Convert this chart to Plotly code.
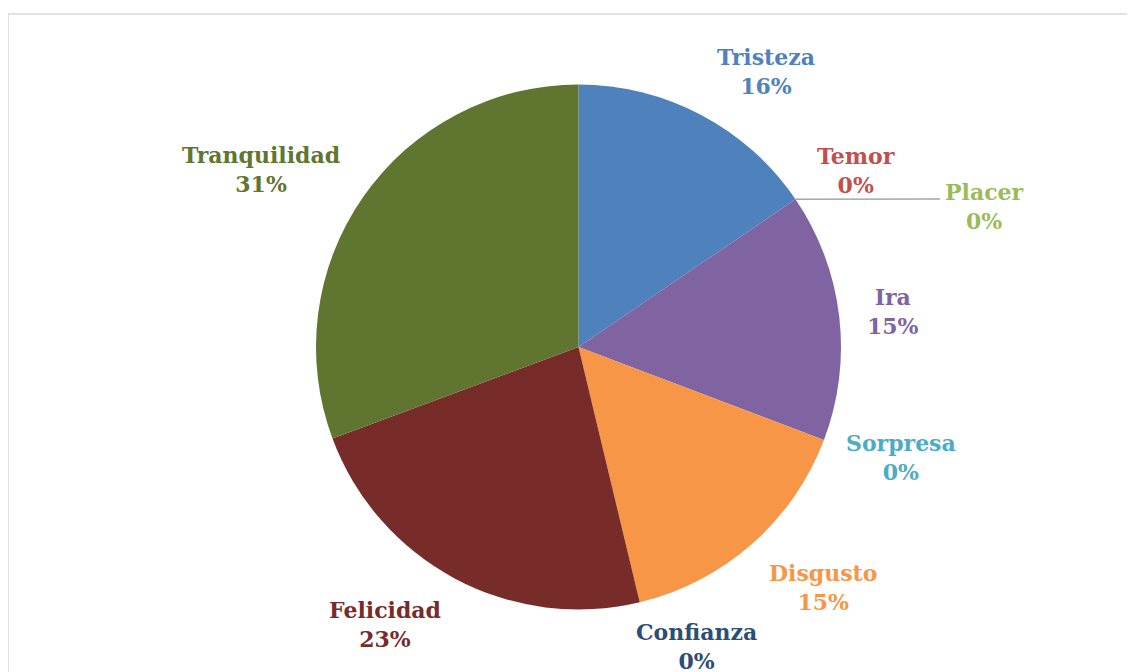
import math
import plotly.graph_objects as go

# Emotions, in clockwise order from 12 o'clock
emotions = ["Tristeza", "Temor", "Placer", "Ira", "Sorpresa",
            "Disgusto", "Confianza", "Felicidad", "Tranquilidad"]
shares = [15.5, 0, 0, 15.3, 0, 15.5, 0, 23.1, 30.7]
percent_labels = ["16%", "0%", "0%", "15%", "0%", "15%", "0%", "23%", "31%"]
colors = ["#4F81BD", "#C0504D", "#9BBB59", "#8064A2", "#4BACC6",
          "#F79646", "#2C4D75", "#772C2A", "#5F7530"]

W, H = 1135, 672
OFF = 8  # the page body adds an 8px margin; pixel positions below are screen positions
# pie geometry in screen pixels
CX, CY, R = 578.5, 347, 262.5

# label block centres in screen pixels (Excel "best fit" placement)
label_pos = {
    "Tristeza": (766, 71),
    "Temor": (856, 170),
    "Placer": (984, 206),
    "Ira": (893, 312),
    "Sorpresa": (901, 458),
    "Disgusto": (823, 587),
    "Confianza": (696, 646),
    "Felicidad": (385, 624),
    "Tranquilidad": (261, 169),
}


def px(x):
    return (x - OFF) / W


def py(y):
    return 1 - (y - OFF) / H


fig = go.Figure(
    go.Pie(
        labels=emotions,
        values=shares,
        sort=False,
        direction="clockwise",
        rotation=0,
        marker=dict(colors=colors, line=dict(width=0)),
        textinfo="none",
        hoverinfo="label+percent",
        showlegend=False,
        domain=dict(x=[px(CX - R), px(CX + R)],
                    y=[py(CY + R), py(CY - R)]),
    )
)

for name, pct, col in zip(emotions, percent_labels, colors):
    lx, ly = label_pos[name]
    fig.add_annotation(
        x=px(lx), y=py(ly), xref="paper", yref="paper",
        text=f"<b>{name}</b><br><b>{pct}</b>",
        showarrow=False, xanchor="center", yanchor="middle",
        font=dict(family="DejaVu Serif", size=22, color=col),
    )

# leader line for "Placer": from its (zero-width) slice edge on the rim
cum = sum(shares[:emotions.index("Placer")])
ang = math.radians(cum / sum(shares) * 360)
x0 = CX + R * math.sin(ang)
y0 = CY - R * math.cos(ang)
fig.add_shape(type="line", xref="paper", yref="paper",
              x0=px(x0), y0=py(y0), x1=px(940), y1=py(199),
              line=dict(color="#A6A6A6", width=1.5))

# chart frame (only top and left edges are in view)
fig.add_shape(type="line", xref="paper", yref="paper",
              x0=px(8), y0=py(14), x1=1.02, y1=py(14),
              line=dict(color="#D9D9D9", width=1.5))
fig.add_shape(type="line", xref="paper", yref="paper",
              x0=px(8), y0=py(14), x1=px(8), y1=-0.02,
              line=dict(color="#D9D9D9", width=1.5))

fig.update_layout(
    width=W, height=H,
    margin=dict(l=0, r=0, t=0, b=0),
    paper_bgcolor="white",
    plot_bgcolor="white",
)

fig.write_html("out.html")
